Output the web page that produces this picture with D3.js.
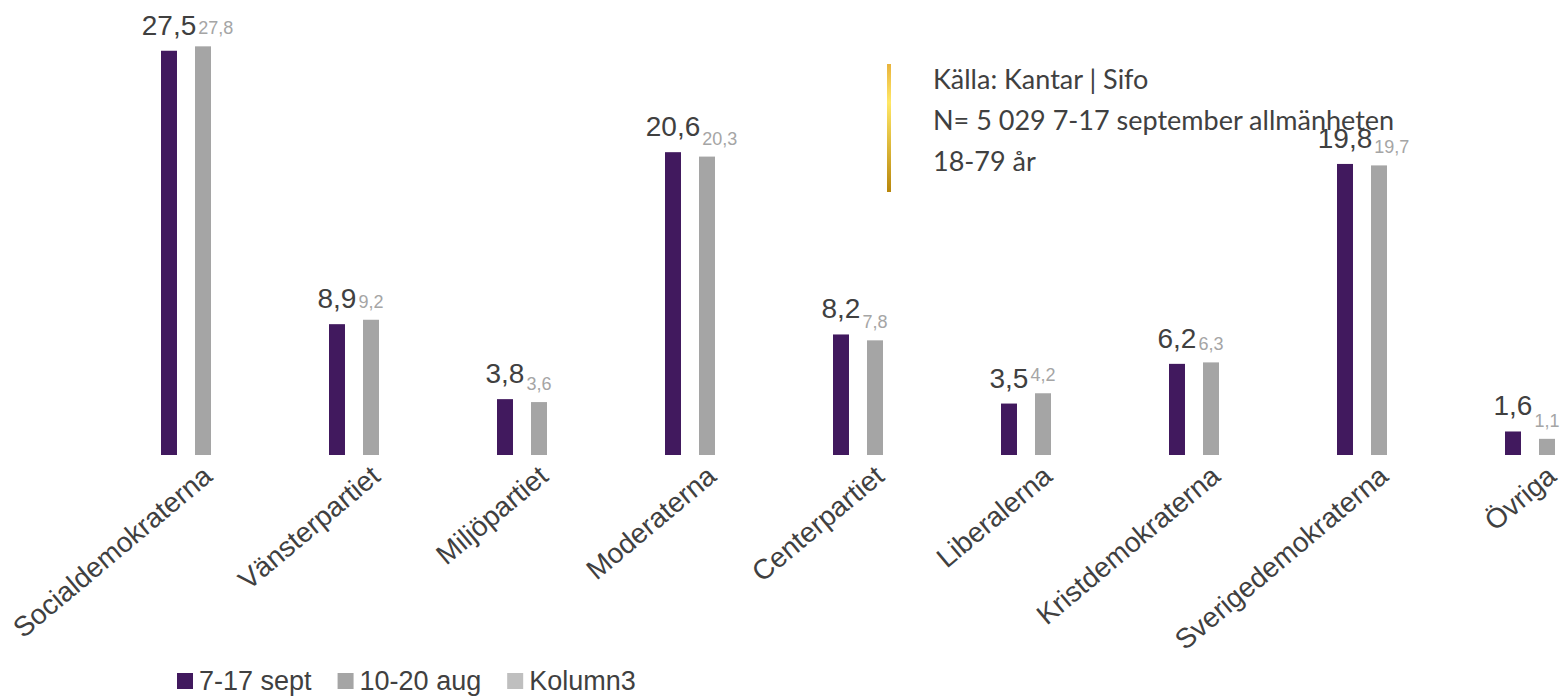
<!DOCTYPE html>
<html>
<head>
<meta charset="utf-8">
<script src="https://cdn.jsdelivr.net/npm/d3@7"></script>
<style>
  body { margin: 0; background: #fff; }
  svg { display: block; }
</style>
</head>
<body>
<svg id="chart" width="1561" height="697"></svg>
<script>
// ===== DATA =====
const categories = ["Socialdemokraterna", "Vänsterpartiet", "Miljöpartiet", "Moderaterna",
  "Centerpartiet", "Liberalerna", "Kristdemokraterna", "Sverigedemokraterna", "Övriga"];
const sept = [27.5, 8.9, 3.8, 20.6, 8.2, 3.5, 6.2, 19.8, 1.6];
const aug = [27.8, 9.2, 3.6, 20.3, 7.8, 4.2, 6.3, 19.7, 1.1];
const seriesNames = ["7-17 sept", "10-20 aug", "Kolumn3"];
const sourceLines = ["Källa: Kantar | Sifo", "N= 5 029 7-17 september allmänheten", "18-79 år"];

const purple = "#41195e";
const gray = "#a5a5a5";
const lightGray = "#bfbfbf";
const textColor = "#404040";
const font = "Arial, 'Liberation Sans', sans-serif";

const svg = d3.select("#chart");

// ===== SCALES =====
const x0 = d3.scaleBand()
  .domain(categories)
  .range([102, 1614]);

const x1 = d3.scaleBand()
  .domain(["sept", "aug"])
  .range([0, x0.bandwidth()])
  .paddingInner(0.53)
  .paddingOuter(1.735);

const y = d3.scaleLinear()
  .domain([0, 30])
  .range([455, 14]);

const rows = categories.map((c, i) => ({ cat: c, sept: sept[i], aug: aug[i] }));

// ===== BARS =====
const groups = svg.selectAll("g.cat")
  .data(rows)
  .join("g")
  .attr("class", "cat")
  .attr("transform", d => `translate(${x0(d.cat)},0)`);

groups.append("rect")
  .attr("x", x1("sept"))
  .attr("y", d => y(d.sept))
  .attr("width", x1.bandwidth())
  .attr("height", d => y(0) - y(d.sept))
  .attr("fill", purple);

groups.append("rect")
  .attr("x", x1("aug"))
  .attr("y", d => y(d.aug))
  .attr("width", x1.bandwidth())
  .attr("height", d => y(0) - y(d.aug))
  .attr("fill", gray);

// ===== DATA LABELS =====
const fmt = v => String(v).replace(".", ",");

groups.each(function (d) {
  const g = d3.select(this);
  const cx = x1("sept") + x1.bandwidth() / 2;
  const big = g.append("text")
    .attr("x", cx)
    .attr("y", y(d.sept) - 16)
    .attr("text-anchor", "middle")
    .attr("font-family", font)
    .attr("font-size", "28px")
    .attr("fill", textColor)
    .text(fmt(d.sept));
  const w = big.node().getComputedTextLength();
  g.append("text")
    .attr("x", cx + w / 2 + 2)
    .attr("y", y(d.aug) - 12)
    .attr("font-family", font)
    .attr("font-size", "18px")
    .attr("fill", gray)
    .text(fmt(d.aug));
});

// ===== X AXIS LABELS =====
svg.append("g")
  .selectAll("text")
  .data(categories)
  .join("text")
  .attr("transform", d => `translate(${x0(d) + x0.bandwidth() / 2 + 28},479) rotate(-40)`)
  .attr("text-anchor", "end")
  .attr("font-family", font)
  .attr("font-size", "28px")
  .attr("fill", textColor)
  .text(d => d);

// ===== LEGEND =====
const legendColors = [purple, gray, lightGray];
const legend = svg.append("g").attr("transform", "translate(177,673)");
let lx = 0;
seriesNames.forEach((name, i) => {
  const item = legend.append("g").attr("transform", `translate(${lx},0)`);
  item.append("rect")
    .attr("width", 16)
    .attr("height", 16)
    .attr("fill", legendColors[i]);
  const t = item.append("text")
    .attr("x", 22)
    .attr("y", 17)
    .attr("font-family", font)
    .attr("font-size", "27px")
    .attr("fill", textColor)
    .text(name);
  lx += 22 + t.node().getComputedTextLength() + 26;
});

// ===== SOURCE NOTE =====
const defs = svg.append("defs");
const grad = defs.append("linearGradient")
  .attr("id", "gold")
  .attr("x1", 0).attr("y1", 0).attr("x2", 0).attr("y2", 1);
grad.append("stop").attr("offset", "0%").attr("stop-color", "#e8b33c");
grad.append("stop").attr("offset", "30%").attr("stop-color", "#ffe766");
grad.append("stop").attr("offset", "100%").attr("stop-color", "#b8860b");

svg.append("rect")
  .attr("x", 887)
  .attr("y", 64)
  .attr("width", 4)
  .attr("height", 128)
  .attr("fill", "url(#gold)");

svg.append("g")
  .selectAll("text")
  .data(sourceLines)
  .join("text")
  .attr("x", 933)
  .attr("y", (d, i) => 89 + i * 41)
  .attr("font-family", "Lato, 'Open Sans', sans-serif")
  .attr("font-size", "27px")
  .attr("fill", textColor)
  .text(d => d);
</script>
</body>
</html>
